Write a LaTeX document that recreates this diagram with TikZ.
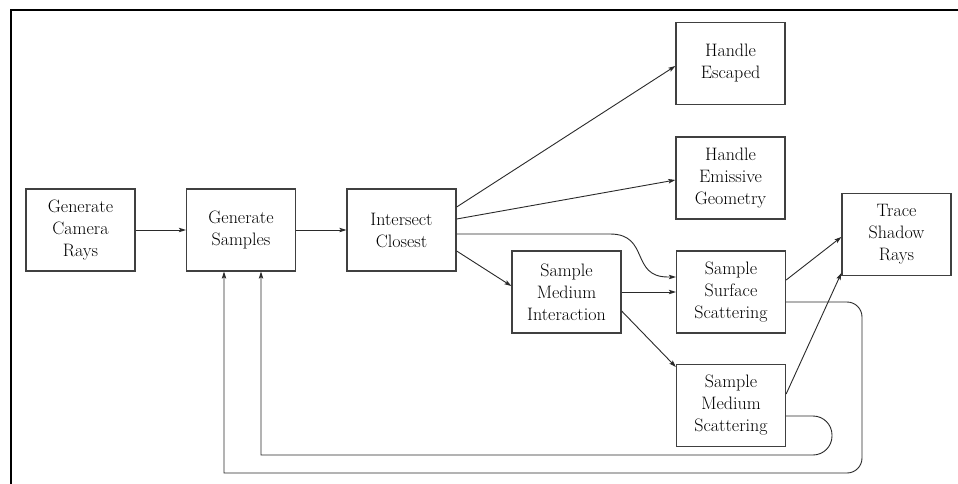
\documentclass[tikz,border=0pt]{standalone}
\usetikzlibrary{arrows.meta}
\definecolor{ink}{HTML}{2A2A2A}
\definecolor{boxline}{HTML}{404040}
\tikzset{
  stage/.style={draw=boxline, line width=1.3pt, minimum width=109pt, minimum height=82pt,
    inner sep=0pt, align=center, text=black, font=\fontsize{18}{22}\selectfont},
  flow/.style={draw=ink, line width=0.9pt, -{Stealth[length=7pt,width=4.5pt,inset=1.5pt]}},
}
\begin{document}
\begin{tikzpicture}[x=1pt,y=-1pt]
\useasboundingbox (0,0) rectangle (958,484);
\fill[white] (0,0) rectangle (958,484);
% frame edges
\draw[line width=2.6pt, line cap=rect] (958,10) -- (11,10) -- (11,484);

% stages
\node[stage] (cam) at (80.5,230) {Generate\\Camera\\Rays};
\node[stage] (gs)  at (241,230)  {Generate\\Samples};
\node[stage] (ic)  at (401.5,230) {Intersect\\Closest};
\node[stage] (he)  at (730.5,63.5) {Handle\\Escaped};
\node[stage] (hem) at (730.5,178) {Handle\\Emissive\\Geometry};
\node[stage] (tsr) at (896.5,234.5) {Trace\\Shadow\\Rays};
\node[stage] (smi) at (566.5,292) {Sample\\Medium\\Interaction};
\node[stage] (sss) at (731,292) {Sample\\Surface\\Scattering};
\node[stage] (sms) at (731,405.5) {Sample\\Medium\\Scattering};

% forward flow
\draw[flow] (cam) -- (gs);
\draw[flow] (gs) -- (ic);
\draw[flow] ([yshift=23pt]ic.east) -- ([yshift=-2.5pt]he.west);
\draw[flow] ([yshift=11pt]ic.east) -- ([yshift=-2pt]hem.west);
\draw[flow] ([yshift=-4pt]ic.east) -- (610,234)
  .. controls (650,234) and (630,277) .. (668,277) -- ([yshift=15pt]sss.west);
\draw[flow] ([yshift=-21pt]ic.east) -- ([yshift=6pt]smi.west);
\draw[flow] (smi.east) -- (sss.west);
\draw[flow] ([yshift=-19pt]smi.east) -- ([yshift=38.5pt]sms.west);
\draw[flow] ([yshift=12pt]sss.east) -- ([yshift=-2.5pt]tsr.west);
\draw[flow] ([yshift=11.5pt]sms.east) -- ([yshift=-38.5pt]tsr.west);

% loops back to sample generation
\draw[flow] ([yshift=-10pt]sss.east) [rounded corners=15pt] -- (862,302) -- (862,473)
  [sharp corners] -- (224,473) -- ([xshift=-17pt]gs.south);
\draw[flow] ([yshift=-10.5pt]sms.east) [rounded corners=19pt] -- (832,416) -- (832,455)
  [sharp corners] -- (261,455) -- ([xshift=20pt]gs.south);
\end{tikzpicture}
\end{document}
